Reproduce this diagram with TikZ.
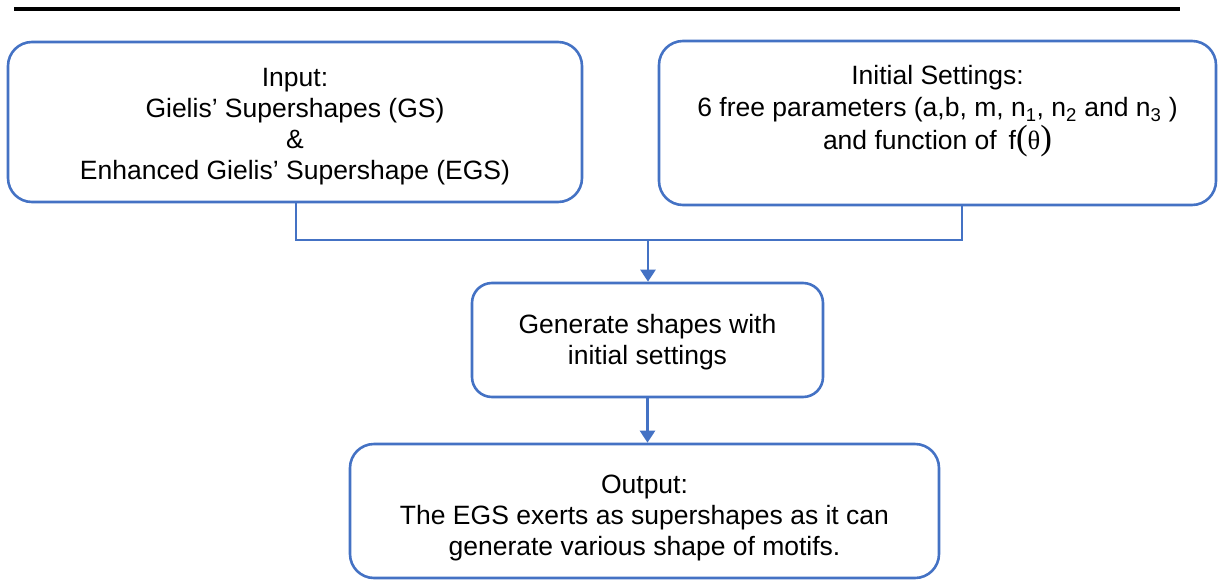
\documentclass[tikz,border=0pt]{standalone}
\usepackage{fontspec}
\setmainfont{Liberation Sans}
\newfontfamily\thetafont{Liberation Serif}
\usetikzlibrary{arrows.meta}
\definecolor{boxblue}{HTML}{4472C4}

\begin{document}
\begin{tikzpicture}[x=1pt,y=-1pt,
	box/.style={draw=boxblue,line width=2.6pt,rounded corners=24pt},
	boxtext/.style={align=center,font=\fontsize{26.5}{31}\selectfont},
	link/.style={draw=boxblue,line width=2.4pt},
	flow/.style={link,-{Triangle[width=15pt,length=12pt]}}]
	\useasboundingbox (0,0) rectangle (1219,579);
	\draw[line width=3.2pt] (14,9)--(1180,9);
	
	\node[box,minimum width=574pt,minimum height=160pt] (input) at (295,122) {};
	\node[boxtext] (inputtext) at (295,126.5) {Input:\\Gielis’ Supershapes (GS)\\\&\\Enhanced Gielis’ Supershape (EGS)};
	\node[box,minimum width=557pt,minimum height=164pt] (settings) at (937.5,123) {};
	\node[boxtext,font=\fontsize{26.5}{32.5}\selectfont] (settingstext) at (937.5,111) {Initial Settings:\\6 free parameters (a,b, m, n\textsubscript{1}, n\textsubscript{2} and n\textsubscript{3} )\\and function of \,f{\thetafont\fontsize{35}{32}\selectfont(}{\thetafont θ}{\thetafont\fontsize{35}{32}\selectfont)}};
	\node[box,rounded corners=20pt,minimum width=351pt,minimum height=114pt] (generate) at (647.5,340) {};
	\node[boxtext] (generatetext) at (647.5,342.5) {Generate shapes with\\initial settings};
	\node[box,minimum width=589pt,minimum height=134pt] (output) at (644.5,511) {};
	\node[boxtext] (outputtext) at (644.5,518) {Output:\\The EGS exerts as supershapes as it can\\generate various shape of motifs.};
	
	\coordinate (join) at (648,240);
	\draw[link] ([xshift=1pt]input.south) |- (join) -| ([xshift=24.5pt]settings.south);
	\draw[flow] (join)--(join |- generate.north);
	\draw[flow] (generate.south)--(generate.south |- output.north);
	
\end{tikzpicture}
\end{document}
